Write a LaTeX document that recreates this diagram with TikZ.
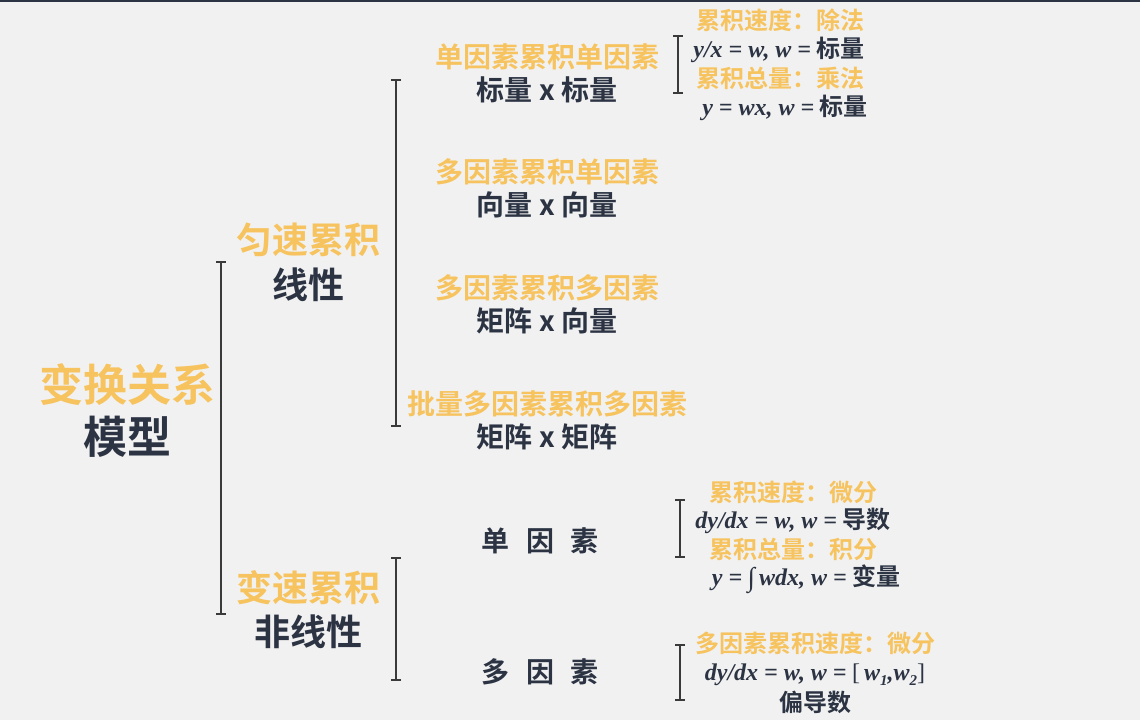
\documentclass[tikz,border=0pt]{standalone}
\usepackage{fontspec}
\setmainfont{Noto Sans CJK SC Bold}
\newfontfamily\mf{Liberation Serif}[BoldItalicFont=* Bold Italic]
\definecolor{bg}{HTML}{F1F1F1}
\definecolor{gold}{HTML}{F6C35E}
\definecolor{navy}{HTML}{2C3444}
\definecolor{brk}{HTML}{3A3A3A}
\tikzset{
  t/.style={inner sep=0pt, anchor=center},
  big/.style={t, font=\fontsize{44}{44}\selectfont},
  mid/.style={t, font=\fontsize{36}{36}\selectfont},
  sm/.style={t, font=\fontsize{28}{28}\selectfont},
  xs/.style={t, font=\fontsize{24}{24}\selectfont},
  og/.style={text=gold},
  dk/.style={text=navy},
  brline/.style={draw=brk, line width=1.5pt},
}
\newcommand{\mi}[1]{{\mf\bfseries\itshape #1}}
\newcommand{\subn}[1]{\raisebox{-0.4ex}{\fontsize{15}{15}\selectfont #1}}
\newcommand{\gap}{\hspace{17pt}}
\newcommand{\brkt}[3]{\draw[brline] (#1-5,#2) -- (#1+5,#2) (#1,#2) -- (#1,#3) (#1-5,#3) -- (#1+5,#3);}
\begin{document}
\begin{tikzpicture}[x=1pt,y=-1pt]
\useasboundingbox (0,0) rectangle (1140,720);
\fill[bg] (0,0) rectangle (1140,720);
\fill[navy] (0,0) rectangle (1140,2);
% brackets
\brkt{221}{262}{614}
\brkt{396}{80}{426}
\brkt{396}{558}{680}
\brkt{678}{36}{93}
\brkt{680}{500}{557}
\brkt{680}{645}{700}
% root
\node[big,og] (r1) at (127,385) {变换关系};
\node[big,dk] (r2) at (127,437) {模型};
% level 1
\node[mid,og] (a1) at (308,240) {匀速累积};
\node[mid,dk] (a2) at (308,285) {线性};
\node[mid,og] (b1) at (308,588) {变速累积};
\node[mid,dk] (b2) at (308,632) {非线性};
% level 2
\node[sm,og] (c1) at (547,57) {单因素累积单因素};
\node[sm,dk] (c2) at (547,90) {标量 x 标量};
\node[sm,og] (d1) at (547,172) {多因素累积单因素};
\node[sm,dk] (d2) at (547,205) {向量 x 向量};
\node[sm,og] (e1) at (547,288) {多因素累积多因素};
\node[sm,dk] (e2) at (547,321) {矩阵 x 向量};
\node[sm,og] (f1) at (547,404) {批量多因素累积多因素};
\node[sm,dk] (f2) at (547,437) {矩阵 x 矩阵};
\node[sm,dk] (g1) at (540,541) {单\gap 因\gap 素};
\node[sm,dk] (h1) at (540,672) {多\gap 因\gap 素};
% level 3
\node[xs,og] (p1) at (780,20) {累积速度：除法};
\node[xs,dk] (p2) at (779,50) {\mi{y/x = w, w =} 标量};
\node[xs,og] (p3) at (780,78) {累积总量：乘法};
\node[xs,dk] (p4) at (785,108) {\mi{y = wx, w =} 标量};
\node[xs,og] (q1) at (793,492) {累积速度：微分};
\node[xs,dk] (q2) at (793,521) {\mi{dy/dx = w, w =} 导数};
\node[xs,og] (q3) at (793,549) {累积总量：积分};
\node[xs,dk] (q4) at (806,579) {\mi{y =} \raisebox{-0.1ex}{\mf\bfseries\fontsize{27}{27}\selectfont ∫}\,\mi{wdx, w =} 变量};
\node[xs,og] (s1) at (815,643) {多因素累积速度：微分};
\node[xs,dk] (s2) at (815,675) {\mi{dy/dx = w, w =} {\mf [}\,\mi{w\subn{1},w\subn{2}}{\mf ]}};
\node[xs,dk] (s3) at (815,702) {偏导数};
\end{tikzpicture}
\end{document}
